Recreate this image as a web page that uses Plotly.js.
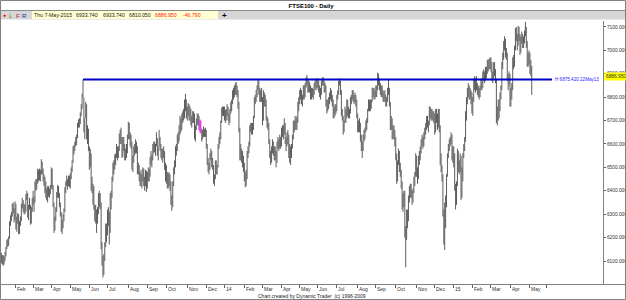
<!DOCTYPE html>
<html><head><meta charset="utf-8">
<script src="https://cdn.plot.ly/plotly-3.0.1.min.js"></script>
<style>html,body{margin:0;padding:0;background:#fff;overflow:hidden}#chart{width:626px;height:300px}</style>
</head><body><div id="chart"></div>
<script>
// Daily lows / highs (FTSE100), one entry per trading day, 10-Jan-2013 .. 7-May-2015
const lo2013 = [
6075,6090,6085,6080,6085,6100,6120,6150,6160,6165,6195,6250,6270,6290,6305,6265,
6275,6235,6225,6260,6215,6215,6250,6270,6325,6310,6300,6300,6310,6360,6285,6275,6320,6255,6260,6310,
6340,6310,6350,6400,6405,6430,6440,6445,6440,6470,6470,6440,6420,6390,6370,6360,6350,6375,6370,6385,
6410,6405,6330,6220,6230,6270,6310,6370,6370,6330,6290,6225,6215,6240,6270,6310,6390,6420,6405,6420,6415,
6410,6450,6480,6520,6555,6570,6590,6595,6625,6670,6670,6685,6720,6750,6800,6650,6620,6710,6620,6600,6570,
6490,6500,6400,6390,6340,6320,6270,6260,6220,6260,6300,6330,6320,6150,6080,6030,6040,6100,6160,6180,
6210,6250,6170,6220,6320,6370,6440,6470,6490,6510,6540,6530,6540,6570,6600,6600,6540,6545,6570,6530,6530,6540,6560,
6620,6620,6590,6580,6490,6480,6520,6550,6560,6560,6470,6470,6440,6420,6420,6410,6440,6420,6400,6420,6395,
6410,6440,6440,6460,6510,6500,6530,6560,6565,6550,6590,6550,6530,6590,6570,6540,6530,6520,6540,6490,6440,
6430,6410,6410,6420,6400,6340,6315,6330,6420,6470,6500,6550,6570,6600,6610,6640,6650,6660,6690,6700,6710,6740,6710,
6700,6720,6700,6700,6680,6670,6690,6690,6620,6610,6660,6680,6680,6660,6650,6645,6610,6620,6630,6630,6630,
6580,6510,6480,6470,6490,6530,6500,6490,6430,6420,6450,6470,6470,6500,6580,6600,6620,6690,6720,6720];
const hi2013 = [
6125,6135,6125,6125,6120,6140,6160,6190,6195,6205,6270,6295,6310,6345,6350,6325,
6355,6345,6290,6305,6300,6270,6290,6345,6370,6360,6345,6340,6385,6400,6390,6340,6370,6340,6330,6370,
6400,6375,6440,6450,6450,6495,6490,6495,6490,6535,6525,6495,6470,6460,6440,6410,6420,6420,6410,6425,
6500,6495,6425,6350,6290,6330,6395,6425,6420,6390,6350,6310,6275,6300,6325,6415,6440,6465,6450,6465,6465,
6475,6500,6530,6590,6595,6610,6630,6640,6690,6705,6710,6735,6770,6815,6875,6800,6710,6780,6770,6680,6665,
6590,6580,6560,6460,6430,6420,6340,6340,6320,6330,6390,6400,6390,6350,6180,6120,6130,6180,6260,6260,
6320,6330,6310,6390,6400,6460,6520,6530,6555,6560,6600,6590,6590,6645,6660,6670,6630,6630,6630,6600,6580,6600,6640,
6695,6690,6650,6640,6610,6550,6590,6600,6620,6610,6590,6520,6510,6480,6490,6470,6500,6495,6460,6490,6485,
6480,6500,6495,6545,6570,6555,6600,6610,6610,6600,6650,6625,6590,6660,6630,6600,6580,6580,6590,6570,6520,
6510,6480,6475,6480,6470,6440,6380,6440,6500,6530,6590,6600,6640,6650,6680,6720,6710,6730,6740,6750,6790,6815,6790,
6760,6775,6770,6760,6750,6720,6740,6740,6730,6680,6710,6730,6730,6720,6705,6700,6665,6660,6675,6665,6670,
6660,6600,6540,6520,6560,6580,6570,6540,6510,6470,6530,6530,6510,6600,6630,6650,6700,6755,6760,6760];
const lo2014 = [
6700,6690,6700,6720,6700,6680,6690,6730,6740,6770,6790,6800,6810,6810,6800,6750,6650,6530,6530,6520,6500,6480,
6440,6415,6420,6450,6540,6560,6590,6650,6640,6640,6660,6710,6770,6780,6800,6830,6810,6780,6780,6780,
6680,6700,6760,6760,6700,6670,6660,6600,6540,6510,6520,6560,6550,6530,6530,6500,6520,6580,6570,6580,6580,
6590,6630,6620,6640,6600,6570,6590,6600,6540,6520,6510,6540,6580,6620,6650,6660,6660,6660,6690,6740,
6770,6790,6770,6760,6790,6790,6800,6840,6850,6820,6820,6820,6790,6790,6800,6790,6810,6830,6840,6830,
6840,6820,6800,6790,6810,6850,6850,6820,6820,6760,6730,6740,6750,6770,6790,6780,6760,6710,6710,6720,6730,
6740,6790,6810,6850,6810,6720,6700,6640,6650,6690,6690,6710,6720,6710,6710,6730,6770,6790,6780,6770,6780,6760,6710,
6650,6650,6650,6610,6570,6540,6570,6610,6620,6650,6660,6690,6740,6740,6740,6750,6780,6800,6790,6790,
6800,6800,6830,6850,6830,6810,6800,6800,6780,6780,6780,6760,6760,6780,6810,6760,6660,6660,6620,6620,6620,6590,
6530,6430,6440,6510,6480,6460,6410,6320,6310,6330,6200,6073,6190,6240,6270,6350,6370,6370,6340,6350,6390,6420,6460,
6460,6430,6450,6510,6530,6560,6590,6580,6590,6620,6640,6660,6670,6650,6680,6710,6700,6700,6700,6690,
6640,6650,6690,6660,6670,6650,6510,6480,6440,6290,6170,6147,6240,6330,6460,6540,6570,6590,6600,6530,6520];
const hi2014 = [
6760,6745,6750,6770,6760,6730,6750,6780,6790,6830,6840,6850,6860,6865,6850,6830,6780,6670,6600,6580,6570,6550,
6520,6480,6490,6570,6590,6610,6680,6690,6690,6690,6720,6800,6810,6830,6850,6875,6870,6840,6830,6840,
6800,6830,6820,6810,6790,6720,6710,6690,6620,6570,6590,6620,6610,6590,6590,6570,6610,6630,6620,6640,6630,
6670,6680,6680,6710,6690,6630,6650,6660,6640,6600,6590,6600,6640,6700,6700,6720,6710,6720,6780,6800,
6830,6840,6830,6810,6850,6850,6860,6885,6895,6880,6870,6865,6850,6840,6840,6835,6860,6870,6880,6880,
6880,6870,6850,6840,6870,6885,6885,6870,6860,6850,6790,6790,6800,6820,6840,6830,6810,6790,6760,6770,6770,
6810,6830,6870,6880,6870,6830,6750,6720,6700,6760,6750,6790,6790,6760,6750,6800,6810,6830,6830,6810,6820,6810,6790,
6730,6700,6710,6690,6640,6610,6640,6660,6670,6700,6710,6750,6790,6790,6790,6790,6840,6840,6840,6830,
6850,6850,6905,6900,6880,6860,6850,6850,6830,6820,6830,6810,6800,6840,6875,6840,6780,6720,6710,6680,6680,6660,
6630,6560,6530,6580,6570,6520,6490,6440,6390,6400,6400,6250,6320,6320,6380,6420,6430,6430,6400,6410,6460,6480,6560,
6550,6500,6550,6570,6590,6620,6640,6630,6650,6670,6690,6720,6720,6700,6760,6760,6750,6750,6740,6740,
6730,6750,6750,6730,6750,6750,6680,6560,6510,6470,6320,6350,6380,6470,6560,6600,6620,6630,6650,6640,6590];
const lo2015 = [
6500,6400,6320,6340,6420,6480,6470,6480,6360,6370,6440,6540,6570,6610,6700,6770,6800,6790,6790,6770,6730,
6720,6780,6830,6820,6830,6810,6800,6790,6800,6830,6830,6840,6870,6860,6870,6880,6900,6910,6920,6920,
6910,6870,6860,6880,6890,6860,6690,6680,6700,6710,6740,6790,6830,6920,6960,7000,6970,6960,6870,6830,6850,6760,
6760,6790,6830,6920,6930,7000,7040,7000,7020,7040,6980,6990,7030,7010,7010,7030,7060,7010,6930,6930,
6940,6900,6890,6810.05];
const hi2015 = [
6590,6560,6430,6440,6580,6570,6530,6560,6550,6500,6560,6600,6630,6740,6800,6840,6860,6850,6840,6830,6820,
6800,6880,6890,6880,6890,6860,6850,6840,6850,6880,6880,6910,6920,6910,6930,6930,6960,6960,6965,6970,
6970,6950,6910,6950,6950,6920,6880,6760,6790,6790,6820,6850,6950,6990,7040,7060,7050,7010,6990,6900,6910,6900,
6840,6860,6970,6980,7020,7095,7100,7070,7105,7100,7070,7060,7080,7070,7060,7085,7122,7100,7040,6990,
7000,6990,6960,6933.74];

// month ticks (trading-day index of first session of month)
const monthTickIdx  = [16,36,56,77,98,118,141,162,183,206,227,247,269,289,310,330,350,371,394,414,436,459,479,500,521,541,563,583,602];
const monthTickText = ['Feb','Mar','Apr','May','Jun','Jul','Aug','Sep','Oct','Nov','Dec','14','Feb','Mar','Apr','May','Jun','Jul','Aug','Sep','Oct','Nov','Dec','15','Feb','Mar','Apr','May',''];
const priceTicks = [6100,6200,6300,6400,6500,6600,6700,6800,6900,7000,7100];
const lastBarText = ['Thu 7-May-2015','6933.740','6933.740','6810.050'];
const lastClose = 6886.950;
const lastChange = -46.790;
const swingHigh = 6875.420;
const swingHighDate = '22May13';
const highlightIdx = [220,221];

const lows = lo2013.concat(lo2014, lo2015);
const highs = hi2013.concat(hi2014, hi2015);

function segs(idxList){
  const x=[],y=[];
  idxList.forEach(i=>{x.push(i,i,null);y.push(lows[i],highs[i],null);});
  return {x,y};
}
const all=[];for(let i=0;i<lows.length;i++){ if(!highlightIdx.includes(i)) all.push(i); }
const s1=segs(all), s2=segs(highlightIdx);

// index of the swing high
let hiIdx=0; for(let i=0;i<lo2013.length;i++){ if(highs[i]>highs[hiIdx]) hiIdx=i; }

const W=603, PT=21, PB=284;
const X=px=>px/W, Y=py=>(PB-py)/(PB-PT);
const F='Liberation Sans, Arial, sans-serif';

const traces=[
 {type:'scatter',mode:'lines',x:s1.x,y:s1.y,line:{color:'#5c5c5c',width:1},hoverinfo:'skip',connectgaps:false},
 {type:'scatter',mode:'lines',x:s2.x,y:s2.y,line:{color:'#ff00ff',width:1},hoverinfo:'skip',connectgaps:false}
];

function tb(px,text,color,size,bold){
  return {xref:'paper',yref:'paper',x:X(px),y:Y(15.2),xanchor:'left',yanchor:'middle',showarrow:false,
    text:bold?'<b>'+text+'</b>':text,font:{family:F,size:size||5.2,color:color||'#202020'},borderpad:0};
}

const monthAnns = monthTickIdx.map((v,k)=>({xref:'x',yref:'paper',x:v,y:Y(289.3),xanchor:'left',yanchor:'middle',
  xshift:0.5,showarrow:false,text:monthTickText[k],font:{family:F,size:5,color:'#303030'},borderpad:0}));

const layout={
 width:626,height:300,
 margin:{l:0,r:23,t:PT,b:300-PB,pad:0},
 paper_bgcolor:'#ffffff',plot_bgcolor:'#ffffff',
 showlegend:false,
 title:{text:'<b>FTSE100 - Daily</b>',font:{family:F,size:6,color:'#000'},x:0.497,xanchor:'center',xref:'container',y:1-5.5/300,yanchor:'middle',yref:'container'},
 xaxis:{range:[-0.55,664.6],tickmode:'array',tickvals:monthTickIdx,ticktext:monthTickText,ticks:'outside',ticklen:3,tickcolor:'#606060',
   showticklabels:false,showgrid:false,zeroline:false,showline:false,fixedrange:true},
 yaxis:{side:'right',range:[6001.7,7125.6],tickmode:'array',tickvals:priceTicks,ticktext:priceTicks.map(v=>v.toFixed(3)),
   ticks:'outside',ticklen:2,tickcolor:'#606060',tickfont:{family:F,size:4.8,color:'#303030'},showgrid:false,zeroline:false,
   showline:true,linecolor:'#808080',linewidth:1,fixedrange:true},
 shapes:[
  {type:'rect',xref:'paper',yref:'paper',x0:X(0),x1:X(626),y0:Y(19.5),y1:Y(10.5),fillcolor:'#d6d6d6',line:{width:0},layer:'below'},
  {type:'rect',xref:'paper',yref:'paper',x0:X(32),x1:X(218),y0:Y(19),y1:Y(11),fillcolor:'#ffffd2',line:{width:0},layer:'below'},
  {type:'line',xref:'paper',yref:'paper',x0:X(0),x1:X(626),y0:Y(10.5),y1:Y(10.5),line:{color:'#8a8a8a',width:1}},
  {type:'line',xref:'paper',yref:'paper',x0:X(0),x1:X(626),y0:Y(284.5),y1:Y(284.5),line:{color:'#808080',width:1}},
  {type:'rect',xref:'paper',yref:'paper',x0:X(0.5),x1:X(625.5),y0:Y(299.5),y1:Y(0.5),line:{color:'#808080',width:1},fillcolor:'rgba(0,0,0,0)'},
  {type:'line',xref:'x',yref:'y',x0:hiIdx,x1:608.4,y0:swingHigh,y1:swingHigh,line:{color:'#0000c8',width:2}}
 ],
 annotations:[
  {xref:'paper',yref:'paper',x:X(4),y:Y(15.2),xanchor:'center',yanchor:'middle',showarrow:false,text:'●',font:{family:F,size:5,color:'#ee0000'}},
  tb(8,'L','#7f7f00',6.2),
  tb(14.5,'F','#a02828',6.2),
  tb(21,'R','#2828a0',6.2),
  tb(33,lastBarText[0]),
  tb(75,lastBarText[1]),
  tb(102,lastBarText[2]),
  tb(128,lastBarText[3]),
  tb(154,lastClose.toFixed(3),'#ff2020'),
  tb(182,lastChange.toFixed(3),'#ff2020'),
  tb(221,'+','#000000',8,true),
  {xref:'x',yref:'y',x:611,y:swingHigh,xanchor:'left',yanchor:'middle',showarrow:false,
   text:'H '+swingHigh.toFixed(3)+' '+swingHighDate,font:{family:F,size:4.6,color:'#2828ff'},borderpad:0},
  {xref:'paper',yref:'y',x:1,y:lastClose,xanchor:'left',yanchor:'middle',showarrow:false,xshift:0.5,
   text:lastClose.toFixed(3),font:{family:F,size:4.8,color:'#303030'},bgcolor:'#ffff00',borderpad:1},
  {xref:'paper',yref:'paper',x:X(312),y:Y(295.5),xanchor:'center',yanchor:'middle',showarrow:false,
   text:'Chart created by Dynamic Trader\u00a0 (c) 1996-2009',font:{family:F,size:5,color:'#202020'},borderpad:0}
 ].concat(monthAnns)
};
Plotly.newPlot('chart',traces,layout,{displayModeBar:false,staticPlot:true});
</script></body></html>
